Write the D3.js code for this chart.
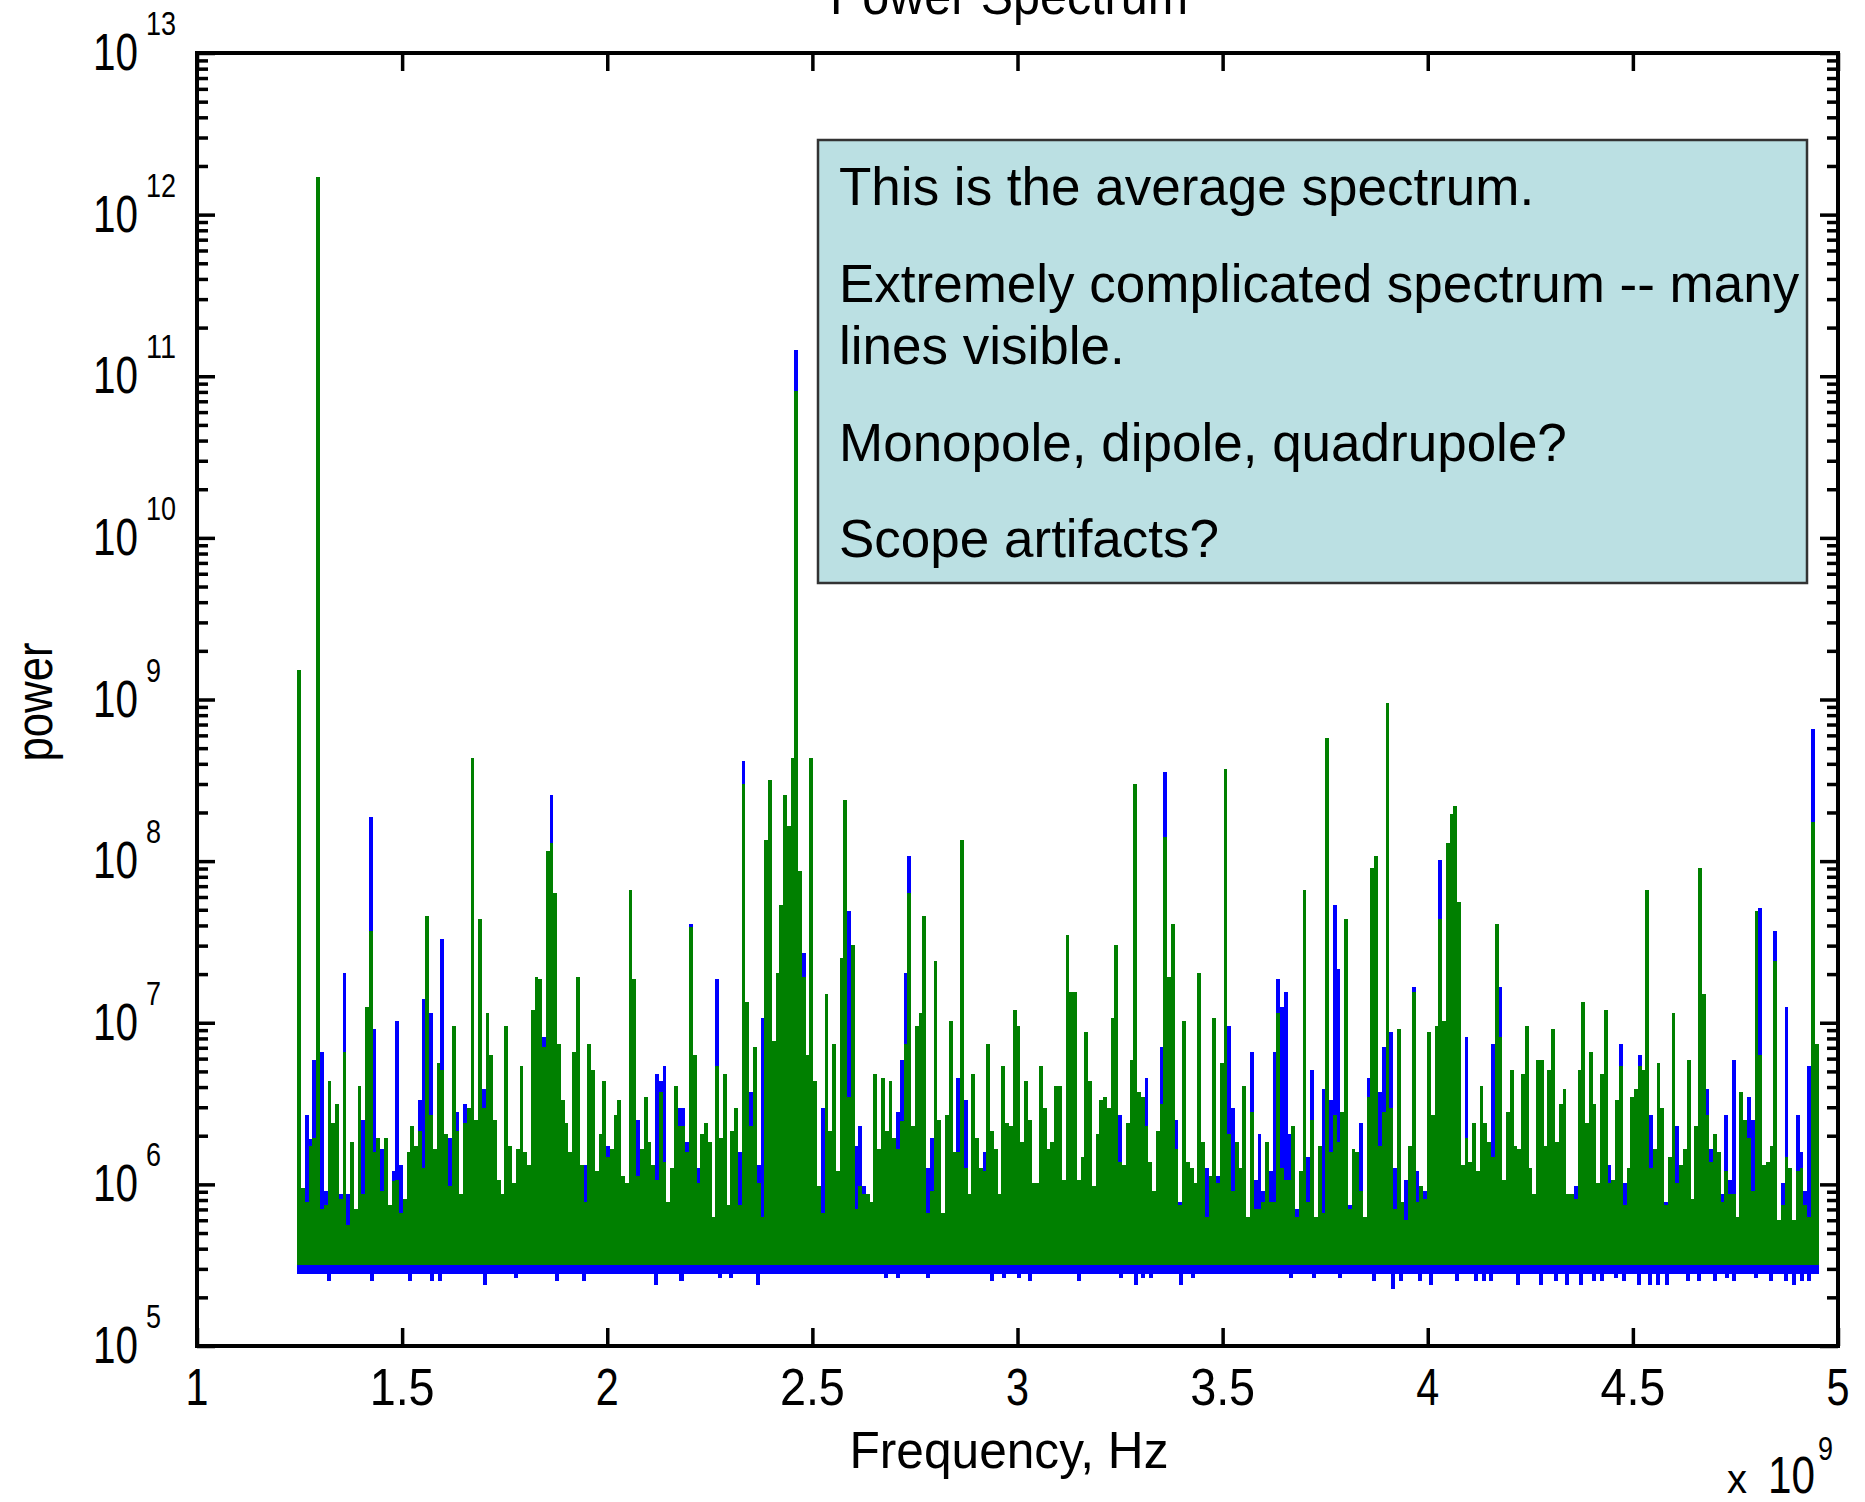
<!DOCTYPE html>
<html><head><meta charset="utf-8">
<script src="https://cdn.jsdelivr.net/npm/d3@7"></script>
<style>html,body{margin:0;padding:0;background:#fff;}svg{display:block}</style>
</head><body>
<svg id="chart" width="1865" height="1502"></svg>
<script>
// ---- data ----
const freqStartGHz = 1.2447;     // first spectral bin
const freqStepGHz = 0.009178;    // bin spacing
// green series: upper value of each bin, log10(power)
const greenLog10 = [
9.18,5.98,5.89,6.24,6.29,12.23,5.85,5.87,6.64,6.38,
6.50,5.91,6.82,5.75,6.26,5.85,6.61,5.94,7.10,7.57,
6.20,6.29,5.96,6.29,5.87,6.02,6.03,5.82,5.91,6.20,
6.36,6.24,6.33,6.10,7.66,6.43,6.22,6.75,6.71,6.31,
5.99,6.98,6.33,5.94,6.38,6.47,8.64,6.40,7.64,6.47,
7.06,6.80,6.40,6.03,5.94,6.98,6.24,6.01,6.22,6.73,
6.20,6.12,7.08,7.28,7.27,6.85,8.06,8.11,7.80,6.87,
6.52,6.38,6.20,6.82,7.28,6.12,5.89,6.87,6.71,6.08,
6.31,6.64,6.17,6.22,6.43,6.52,6.05,6.01,7.82,7.27,
6.05,6.22,6.54,6.26,6.12,6.03,6.57,6.14,5.89,6.10,
6.61,6.36,
6.36,6.20,7.59,6.80,6.01,6.31,6.38,6.26,5.80,6.73,
6.29,6.68,5.87,6.33,6.47,5.87,8.48,7.13,6.36,6.85,
6.01,5.80,8.13,8.50,6.89,7.31,7.73,8.41,8.22,8.64,
10.91,7.94,7.28,6.80,8.64,6.64,5.99,5.82,7.18,6.33,
6.87,6.08,7.40,8.38,6.54,7.48,5.85,5.99,5.94,5.94,
5.89,6.68,6.22,6.66,6.33,6.64,6.29,6.22,6.39,6.87,
7.80,6.36,6.98,7.06,7.66,5.82,5.96,7.38,6.40,5.82,
6.43,7.01,6.20,6.20,8.13,6.10,5.94,6.68,6.29,6.10,
6.08,6.87,6.33,6.22,5.94,6.73,6.38,6.36,7.08,6.98,
6.26,6.64,6.40,6.01,6.01,6.73,6.47,6.22,6.26,6.61,
6.61,6.03,7.54,7.19,
7.19,6.03,6.17,6.94,6.64,5.99,6.31,6.52,6.54,6.47,
7.03,7.48,6.14,6.12,6.38,6.77,8.48,6.57,6.54,6.36,
6.14,5.96,6.33,6.50,8.15,7.28,7.61,6.22,5.87,7.01,
6.14,6.10,6.01,7.31,6.26,5.80,6.05,7.03,6.01,6.75,
8.57,6.31,5.96,6.26,6.10,6.61,5.80,6.45,5.85,5.85,
5.89,6.26,5.89,5.89,7.06,6.10,6.03,6.03,6.36,5.80,
6.08,7.82,5.89,6.40,5.80,6.24,5.82,8.76,6.20,6.43,
6.26,6.45,7.64,5.85,6.22,6.20,5.96,5.80,6.54,7.96,
8.03,6.24,6.45,8.98,6.47,5.85,6.96,5.89,5.78,6.24,
7.19,5.89,5.99,5.91,6.94,6.43,6.98,7.64,
7.01,8.11,8.29,8.34,7.75,6.12,6.29,6.14,6.38,6.08,
6.61,6.38,6.26,6.17,7.61,6.91,6.03,6.45,6.71,6.24,
6.22,6.68,6.98,6.10,5.94,6.77,6.77,6.24,6.71,6.96,
6.26,6.50,6.59,5.94,5.94,5.91,6.71,7.13,6.38,6.82,
6.50,6.01,6.68,7.08,6.01,6.03,6.52,6.73,5.87,6.10,
6.54,6.59,6.73,6.71,7.82,6.10,6.22,6.75,6.47,5.87,
6.17,7.06,6.01,6.12,6.22,6.77,5.91,6.36,7.96,7.18,
6.43,6.14,6.31,6.20,5.89,6.08,5.94,5.94,5.80,6.57,
6.40,6.29,5.96,7.69,6.80,6.12,6.14,6.24,7.38,5.78,
5.87,6.17,6.10,5.78,6.08,6.10,5.87,5.80,8.24,6.87
];
// blue series where it rises above the green one: [bin index, log10(power)]
const blueAboveGreen = [
[2,6.43],[3,6.28],[4,6.77],[6,6.82],[7,5.96],[11,5.94],[12,7.31],[13,5.94],[17,6.40],[19,8.27],
[20,6.96],[22,6.22],[25,6.08],[26,7.01],[27,6.12],[32,6.52],[33,7.15],[35,7.06],[38,7.52],[40,6.29],
[42,6.45],[44,6.50],[49,6.59],[65,6.91],[67,8.41],[76,6.12],[82,6.24],[90,6.40],[95,6.68],[96,6.64],
[97,6.73],[101,6.47],
[102,6.47],[103,6.26],[104,7.61],[106,6.10],[111,7.27],[117,6.20],[118,8.62],[120,6.57],[122,6.12],[123,7.03],
[132,11.16],[134,7.43],[139,6.47],[146,7.69],[148,6.24],[149,6.36],[150,5.99],[159,6.45],[160,6.77],[161,7.31],
[162,8.03],[167,6.10],[168,6.29],[175,6.66],[177,6.52],[182,6.20],
[218,6.43],[225,6.66],[229,6.85],[230,8.55],[233,6.40],[234,5.89],[241,6.10],[244,6.05],[247,6.98],[248,6.47],
[253,6.82],[254,6.03],[255,6.31],[256,5.96],[258,6.08],[259,6.82],[260,7.27],[261,7.10],[262,7.19],[263,6.31],
[265,5.85],[268,6.17],[269,6.71],[272,6.59],[274,6.52],[275,7.73],[276,7.33],[279,5.87],[282,6.38],[284,6.66],
[287,6.57],[288,6.85],[290,6.94],[291,6.10],[294,6.03],[296,7.22],[297,6.08],[299,5.96],[303,8.01],
[310,6.91],[317,6.87],[319,7.22],[339,5.99],[348,6.12],[351,6.87],[352,6.01],[356,6.80],[359,6.43],[363,5.89],
[366,6.36],[374,6.59],[375,6.22],[378,5.94],[379,6.43],[380,6.03],[381,6.77],[385,6.54],[386,6.40],[388,7.71],
[392,7.57],[394,6.01],[395,7.10],[398,6.43],[399,6.20],[400,5.96],[401,6.73],[402,8.82]
];
// lower edge (noise floor) of each series, log10(power)
const greenFloorLog10 = 5.50;
const blueFloorLog10 = 5.445;
// deeper dips of the blue floor: [frequency GHz, log10(power)]
const blueDips = [
[1.3226,5.40],[1.4258,5.40],[1.5184,5.40],[1.5737,5.40],[1.5915,5.40],[1.7020,5.38],[1.7768,5.42],[1.8767,5.40],
[1.9425,5.40],[2.1180,5.38],[2.1789,5.40],[2.1813,5.40],[2.2740,5.42],[2.3008,5.42],[2.3666,5.38],[2.6785,5.42],
[2.7078,5.42],[2.7809,5.42],[2.9369,5.40],[2.9661,5.42],[3.0027,5.42],[3.0295,5.40],[3.1489,5.40],[3.2513,5.42],
[3.2878,5.38],[3.3049,5.42],[3.3244,5.42],[3.3975,5.38],[3.4267,5.42],[3.6656,5.42],[3.7216,5.42],[3.7850,5.42],
[3.8679,5.40],[3.9142,5.35],[3.9337,5.40],[3.9800,5.40],[4.0068,5.38],[4.0702,5.40],[4.1165,5.40],[4.1360,5.40],
[4.1531,5.40],[4.2189,5.38],[4.2749,5.38],[4.3115,5.40],[4.3383,5.38],[4.3724,5.38],[4.4041,5.40],[4.4236,5.40],
[4.4577,5.42],[4.4772,5.40],[4.5138,5.38],[4.5406,5.38],[4.5601,5.38],[4.5820,5.38],[4.6332,5.40],[4.6600,5.40],
[4.6990,5.40],[4.7283,5.42],[4.7453,5.40],[4.7989,5.42],[4.8355,5.40],[4.8720,5.40],[4.8915,5.38],[4.9110,5.40],
[4.9281,5.40]
];
// axes
const xTickValuesGHz = [1,1.5,2,2.5,3,3.5,4,4.5,5];
const xTickLabels = ['1','1.5','2','2.5','3','3.5','4','4.5','5'];
const yTickExponents = [5,6,7,8,9,10,11,12,13];
const annotationLines = [
  ['This is the average spectrum.'],
  ['Extremely complicated spectrum -- many','lines visible.'],
  ['Monopole, dipole, quadrupole?'],
  ['Scope artifacts?']
];
const titleText = 'Power Spectrum';
const xLabelText = 'Frequency, Hz';
const yLabelText = 'power';

// ---- drawing ----
const FONT = "'Liberation Sans', Arial, Helvetica, sans-serif";
const svg = d3.select('#chart');
svg.append('rect').attr('width',1865).attr('height',1502).attr('fill','#fff');
const L = 197, R = 1838, T = 53, B = 1346;
const x = d3.scaleLinear().domain([1e9,5e9]).range([L,R]);
const y = d3.scaleLog().domain([1e5,1e13]).range([B,T]);
const p10 = v => Math.pow(10, v);

const bins = greenLog10.map((g,i)=>({
  i, f0:(freqStartGHz+i*freqStepGHz)*1e9, f1:(freqStartGHz+(i+1)*freqStepGHz)*1e9, g:p10(g), b:null
}));
blueAboveGreen.forEach(([i,v])=>{ bins[i].b = p10(v); });

const plot = svg.append('g').attr('shape-rendering','crispEdges');
const bx0 = d => Math.round(x(d.f0)), bx1 = d => Math.round(x(d.f1));
// blue bands
plot.selectAll('rect.blue').data(bins).join('rect').attr('class','blue')
  .attr('x',bx0).attr('width',d=>bx1(d)-bx0(d))
  .attr('y',d=>y(d.b!==null?d.b:p10(greenFloorLog10)))
  .attr('height',d=>y(p10(blueFloorLog10))-y(d.b!==null?d.b:p10(greenFloorLog10)))
  .attr('fill','#0000ff');
const stepPx = x((freqStartGHz+freqStepGHz)*1e9)-x(freqStartGHz*1e9);
plot.selectAll('rect.dip').data(blueDips).join('rect').attr('class','dip')
  .attr('x',d=>Math.round(x(d[0]*1e9)-stepPx/2)).attr('width',Math.round(stepPx))
  .attr('y',y(p10(greenFloorLog10)))
  .attr('height',d=>y(p10(d[1]))-y(p10(greenFloorLog10)))
  .attr('fill','#0000ff');
// green
plot.selectAll('rect.green').data(bins).join('rect').attr('class','green')
  .attr('x',bx0).attr('width',d=>bx1(d)-bx0(d))
  .attr('y',d=>y(d.g))
  .attr('height',d=>y(p10(greenFloorLog10))-y(d.g))
  .attr('fill','#008000');

// ticks
const tickW = 3.5;
function styleAxis(g){ g.select('.domain').remove(); g.selectAll('line').attr('stroke','#000').attr('stroke-width',tickW); g.selectAll('text').remove(); }
const xTicks = xTickValuesGHz.map(v=>v*1e9);
svg.append('g').attr('transform',`translate(0,${B})`).call(d3.axisBottom(x).tickValues(xTicks).tickSize(-18)).call(styleAxis);
svg.append('g').attr('transform',`translate(0,${T})`).call(d3.axisTop(x).tickValues(xTicks).tickSize(-18)).call(styleAxis);
const yMajor = yTickExponents.map(p10);
const yMinor = [];
yTickExponents.slice(0,-1).forEach(e=>{ for(let k=2;k<=9;k++) yMinor.push(k*p10(e)); });
svg.append('g').attr('transform',`translate(${L},0)`).call(d3.axisLeft(y).tickValues(yMajor).tickSize(-18)).call(styleAxis);
svg.append('g').attr('transform',`translate(${L},0)`).call(d3.axisLeft(y).tickValues(yMinor).tickSize(-11)).call(styleAxis);
svg.append('g').attr('transform',`translate(${R},0)`).call(d3.axisRight(y).tickValues(yMajor).tickSize(-18)).call(styleAxis);
svg.append('g').attr('transform',`translate(${R},0)`).call(d3.axisRight(y).tickValues(yMinor).tickSize(-11)).call(styleAxis);
// frame
svg.append('rect').attr('x',L).attr('y',T).attr('width',R-L).attr('height',B-T)
  .attr('fill','none').attr('stroke','#000').attr('stroke-width',4);

function txt(s, xx, yy, size, anchor, len){
  const t = svg.append('text').attr('x',xx).attr('y',yy).attr('font-size',size)
    .attr('font-family',FONT).attr('text-anchor',anchor||'start').attr('fill','#000').text(s);
  if(len) t.attr('textLength',len).attr('lengthAdjust','spacingAndGlyphs');
  return t;
}
// x tick labels
const charW = c => c==='.' ? 19 : 23;
xTicks.forEach((v,i)=>{
  const s = xTickLabels[i];
  txt(s, x(v), B+59, 52, 'middle', s.split('').reduce((a,c)=>a+charW(c),0));
});
// y tick labels
yTickExponents.forEach(e=>{
  const yy = y(p10(e));
  txt('10', 93, yy+17, 52, 'start', 45);
  const es = String(e);
  txt(es, 146, yy-18, 33, 'start', es.length*15);
});
// titles
txt(titleText, 1009, 14, 52, 'middle', 358);
txt(xLabelText, 1009, 1468, 52, 'middle', 319);
txt('x', 1727, 1493, 40, 'start', 20);
txt('10', 1768, 1493, 52, 'start', 47);
txt('9', 1818, 1460, 33, 'start', 15);
svg.append('text').attr('transform','translate(52,702) rotate(-90)')
  .attr('font-size',52).attr('font-family',FONT).attr('text-anchor','middle')
  .attr('textLength',119).attr('lengthAdjust','spacingAndGlyphs').text(yLabelText);

// annotation box
svg.append('rect').attr('x',818).attr('y',140).attr('width',1807-818).attr('height',583-140)
  .attr('fill','#bbe0e3').attr('stroke','#333').attr('stroke-width',2.5);
const baselines = [[205],[302,364],[461],[557]];
annotationLines.forEach((para,pi)=>para.forEach((line,li)=>{
  txt(line, 839, baselines[pi][li], 53, 'start');
}));
</script>
</body></html>
